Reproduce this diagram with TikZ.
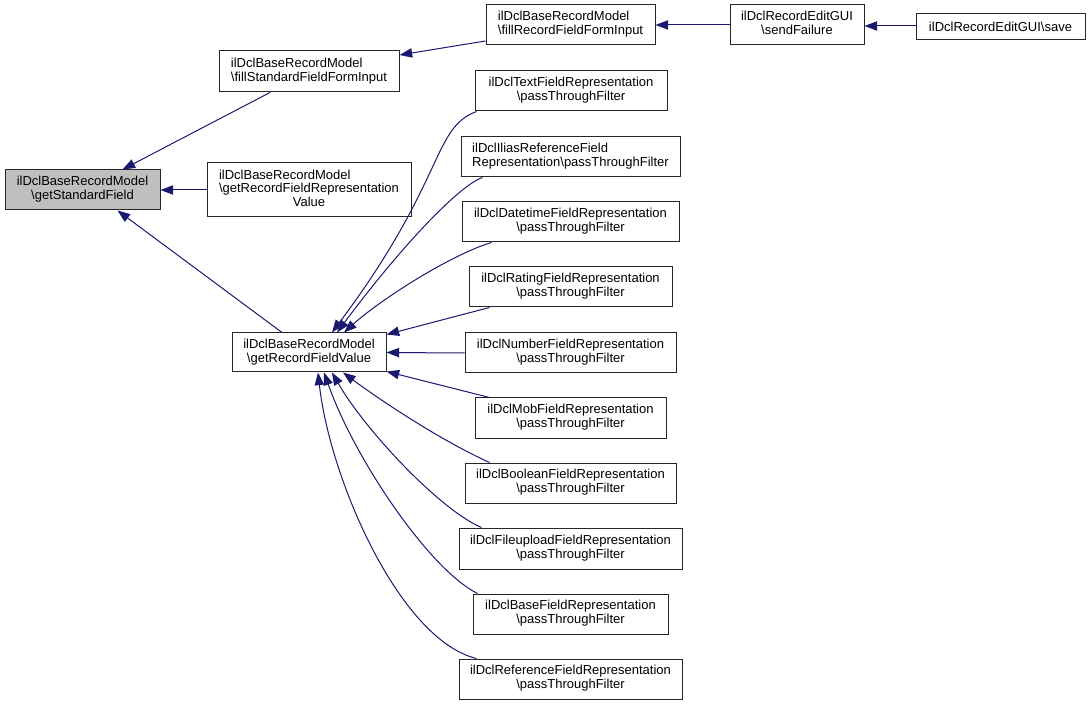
\documentclass[tikz,border=0pt]{standalone}
\usepackage{fontspec}
\setmainfont{Liberation Sans}
\usetikzlibrary{arrows.meta,calc}
\definecolor{edgeblue}{HTML}{191970}
\newcommand{\lab}[2]{\begin{tabular}{@{}l@{}}#1\\\multicolumn{1}{@{}c@{}}{#2}\end{tabular}}
\newcommand{\bx}[7][]{\node[box,#1,minimum width={(#5-#3)*0.75pt},minimum height={(#6-#4)*0.75pt}] (#2) at ({(#3+#5)/2},{(#4+#6)/2}) {#7};}
\newcommand{\bs}{\textbackslash}
\begin{document}
\begin{tikzpicture}[x=0.75pt,y=-0.75pt,
  box/.style={draw=black!85,line width=0.75pt,fill=white,inner sep=1pt,font=\fontsize{9.75}{10.3}\selectfont},
  edge/.style={draw=edgeblue,line width=0.75pt,-{Triangle[length=9.5pt,width=7pt,fill=edgeblue]}}]
\useasboundingbox[fill=white] (0,0) rectangle (1091,705);
% nodes
\bx[fill=black!25]{gsf}{5}{170}{160}{210}{\lab{ilDclBaseRecordModel}{\bs getStandardField}}
\bx{fsf}{219}{51}{399}{92}{\lab{ilDclBaseRecordModel}{\bs fillStandardFieldFormInput}}
\bx{frf}{486}{5}{655}{45}{\lab{ilDclBaseRecordModel}{\bs fillRecordFieldFormInput}}
\bx{sf}{730}{5}{864}{45}{\lab{ilDclRecordEditGUI}{\bs sendFailure}}
\bx{sv}{916}{14}{1085}{40}{ilDclRecordEditGUI\bs save}
\bx{rv}{207}{163}{411}{217}{\lab{ilDclBaseRecordModel\\\bs getRecordFieldRepresentation}{Value}}
\bx{gv}{232}{333}{386}{372}{\lab{ilDclBaseRecordModel}{\bs getRecordFieldValue}}
\bx{t1}{475}{71}{667}{111}{\lab{ilDclTextFieldRepresentation}{\bs passThroughFilter}}
\bx{t2}{461}{137}{680}{177}{\lab{ilDclIliasReferenceField}{Representation\bs passThroughFilter}}
\bx{t3}{462}{202}{679}{242}{\lab{ilDclDatetimeFieldRepresentation}{\bs passThroughFilter}}
\bx{t4}{469}{267}{672}{307}{\lab{ilDclRatingFieldRepresentation}{\bs passThroughFilter}}
\bx{t5}{465}{333}{676}{373}{\lab{ilDclNumberFieldRepresentation}{\bs passThroughFilter}}
\bx{t6}{475}{398}{666}{438}{\lab{ilDclMobFieldRepresentation}{\bs passThroughFilter}}
\bx{t7}{465}{463}{676}{503}{\lab{ilDclBooleanFieldRepresentation}{\bs passThroughFilter}}
\bx{t8}{459}{528}{682}{569}{\lab{ilDclFileuploadFieldRepresentation}{\bs passThroughFilter}}
\bx{t9}{473}{594}{668}{634}{\lab{ilDclBaseFieldRepresentation}{\bs passThroughFilter}}
\bx{t10}{459}{659}{682}{699}{\lab{ilDclReferenceFieldRepresentation}{\bs passThroughFilter}}
% edges
\draw[edge] ($(fsf.south)+(-39,0)$) -- ($(gsf.north)+(40,0)$);
\draw[edge] (rv.west) -- (gsf.east);
\draw[edge] ($(gv.north)+(-27,0)$) -- ($(gsf.south)+(35,0)$);
\draw[edge] ($(frf.west)+(0,16)$) -- ($(fsf.east)+(0,-16.5)$);
\draw[edge] (sf.west) -- (frf.east);
\draw[edge] ($(sv.west)+(0,-1)$) -- ($(sf.east)+(0,1)$);
\draw[edge] ($(t1.south west)+(2,0)$) .. controls (432,128) and (446,180) .. ($(gv.north)+(23,0)$);
\draw[edge] ($(t2.south west)+(22,0)$) .. controls (460,185) and (403,244) .. ($(gv.north)+(28,0)$);
\draw[edge] ($(t3.south west)+(30,0)$) .. controls (450,255) and (380,300) .. ($(gv.north)+(35,0)$);
\draw[edge] ($(t4.south west)+(21,0)$) -- ($(gv.north east)+(0,2)$);
\draw[edge] (t5.west) -- (gv.east);
\draw[edge] ($(t6.north west)+(15,0)$) -- ($(gv.south east)+(0,-1)$);
\draw[edge] ($(t7.north west)+(25,0)$) .. controls (440,440) and (380,400) .. ($(gv.south)+(34,0)$);
\draw[edge] ($(t8.north west)+(23,0)$) .. controls (440,510) and (365,430) .. ($(gv.south)+(23,0)$);
\draw[edge] ($(t9.north west)+(5,0)$) .. controls (430,570) and (355,460) .. ($(gv.south)+(15,0)$);
\draw[edge] ($(t10.north west)+(18,0)$) .. controls (400,640) and (330,480) .. ($(gv.south)+(9,0)$);
\end{tikzpicture}
\end{document}
